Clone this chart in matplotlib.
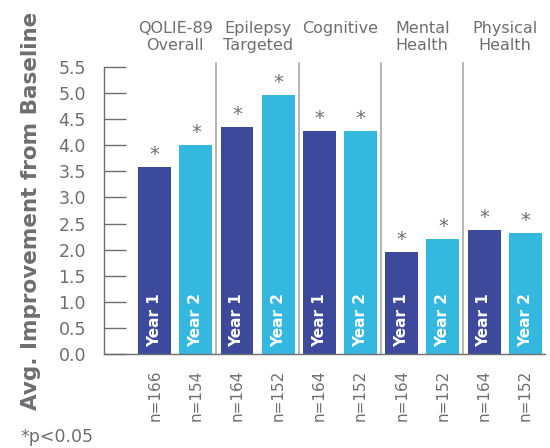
import matplotlib
matplotlib.use("Agg")
import matplotlib.pyplot as plt

plt.rcParams['font.family'] = ['DejaVu Sans']

categories = ["QOLIE-89\nOverall", "Epilepsy\nTargeted", "Cognitive", "Mental\nHealth", "Physical\nHealth"]
year1 = [3.58, 4.35, 4.27, 1.95, 2.37]
year2 = [4.00, 4.96, 4.27, 2.20, 2.32]
n1 = ["n=166", "n=164", "n=164", "n=164", "n=164"]
n2 = ["n=154", "n=152", "n=152", "n=152", "n=152"]
yticks = [0.0, 0.5, 1.0, 1.5, 2.0, 2.5, 3.0, 3.5, 4.0, 4.5, 5.0, 5.5]

dark = "#3d4a9b"
light = "#35b8e0"
gray = "#6d6e71"
sepc = "#a7a9ac"

fig = plt.figure(figsize=(5.5, 4.48), dpi=100)
ax = fig.add_axes([104/550, 1-354/448, 441/550, (354-67)/448])

for g in range(len(categories)):
    x1, x2 = 2*g, 2*g + 1
    ax.bar(x1, year1[g], width=0.8, color=dark)
    ax.bar(x2, year2[g], width=0.8, color=light)
    for x, v in ((x1, year1[g]), (x2, year2[g])):
        ax.text(x, v + 0.06, "*", ha="center", va="bottom", color=gray, fontsize=14)
    ax.text(x1, 0.14, "Year 1", rotation=90, ha="center", va="bottom", color="white",
            fontsize=11, fontweight="bold")
    ax.text(x2, 0.14, "Year 2", rotation=90, ha="center", va="bottom", color="white",
            fontsize=11, fontweight="bold")
    ax.text(x1, -0.3, n1[g], rotation=90, ha="center", va="top", color=gray, fontsize=11)
    ax.text(x2, -0.3, n2[g], rotation=90, ha="center", va="top", color=gray, fontsize=11)
    ax.text(2*g + 0.5, 6.38, categories[g], ha="center", va="top", color=gray,
            fontsize=11.5, linespacing=1.2)
    if g > 0:
        ax.plot([2*g - 0.5, 2*g - 0.5], [0, 5.58], color=sepc, lw=1.2, clip_on=False)

ax.set_xlim(-1.23, 9.48)
ax.set_ylim(0, 5.5)
ax.set_yticks(yticks)
ax.set_yticklabels([f"{t:.1f}" for t in yticks])
ax.set_xticks([])
ax.tick_params(axis="y", direction="in", length=16, width=1, color=gray,
               labelcolor=gray, labelsize=12.5, pad=13)
for s in ("top", "right"):
    ax.spines[s].set_visible(False)
for s in ("left", "bottom"):
    ax.spines[s].set_color(gray)
    ax.spines[s].set_linewidth(1)

ax.set_ylabel("Avg. Improvement from Baseline", fontsize=15.5, fontweight="bold",
              color=gray)
ax.yaxis.set_label_coords(-0.143, 0.5)

fig.text(20/550, 1-437/448, "*p<0.05", color=gray, fontsize=12.5, ha="left", va="center")

fig.savefig("out.png", dpi=100)
